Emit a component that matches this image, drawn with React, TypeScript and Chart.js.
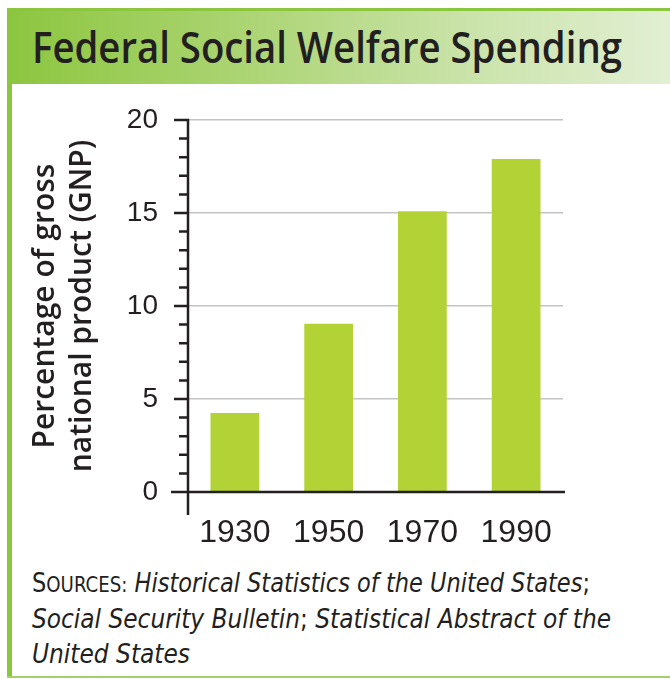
import React, { useEffect, useRef } from 'react';
import { Chart, registerables } from 'chart.js';

Chart.register(...registerables);

const titleText = 'Federal Social Welfare Spending';
const years = ['1930', '1950', '1970', '1990'];
const spendingPct = [4.25, 9.05, 15.1, 17.9];
const yAxisTitle = ['Percentage of gross', 'national product (GNP)'];
const yMin = 0;
const yMax = 20;
const yMajorStep = 5;
const yMinorStep = 1;
const sourcesLine1 = 'Historical Statistics of the United States';
const sourcesLine2a = 'Social Security Bulletin';
const sourcesLine2b = 'Statistical Abstract of the';
const sourcesLine3 = 'United States';

const NARROW = '"Liberation Sans Narrow", "Arial Narrow", "DejaVu Sans Condensed", sans-serif';
const TICKFONT = '"Liberation Sans", Arial, sans-serif';
const INK = '#231f20';
const GREEN = '#8cc63f';
const BAR = '#b3d236';

const axisPlugin = {
  id: 'axisDecor',
  afterDraw(chart: any) {
    const { ctx, chartArea, scales } = chart;
    const ys = scales.y;
    const left = chartArea.left;
    const bottom = chartArea.bottom;
    ctx.save();
    ctx.strokeStyle = INK;
    ctx.lineWidth = 2.5;
    ctx.beginPath();
    ctx.moveTo(left, ys.getPixelForValue(yMax) - 1.25);
    ctx.lineTo(left, bottom + 23);
    ctx.moveTo(left - 17, bottom);
    ctx.lineTo(chartArea.right + 2, bottom);
    for (let v = yMin; v <= yMax; v += yMinorStep) {
      const py = ys.getPixelForValue(v);
      const len = v % yMajorStep === 0 ? 14 : 9;
      ctx.moveTo(left - len, py);
      ctx.lineTo(left, py);
    }
    ctx.stroke();
    ctx.restore();
  },
};

function BarChart() {
  const ref = useRef<HTMLCanvasElement | null>(null);
  useEffect(() => {
    if (!ref.current) return;
    const chart = new Chart(ref.current, {
      type: 'bar',
      data: {
        labels: years,
        datasets: [
          {
            data: spendingPct,
            backgroundColor: BAR,
            barPercentage: 0.52,
            categoryPercentage: 1,
          },
        ],
      },
      options: {
        responsive: false,
        animation: false,
        events: [],
        layout: { padding: { top: 34, right: 107, bottom: 0, left: 0 } },
        plugins: {
          legend: { display: false },
          tooltip: { enabled: false },
          title: { display: false },
        },
        scales: {
          x: {
            grid: { display: false, drawTicks: false },
            border: { display: false },
            ticks: {
              color: INK,
              font: { family: TICKFONT, size: 32 },
              padding: 22,
              maxRotation: 0,
              autoSkip: false,
            },
            afterFit(s: any) {
              s.height = 68;
            },
          },
          y: {
            min: yMin,
            max: yMax,
            ticks: {
              stepSize: yMajorStep,
              color: INK,
              font: { family: TICKFONT, size: 28 },
              padding: 16,
            },
            grid: {
              color: '#c4c4c4',
              lineWidth: 1.5,
              drawTicks: true,
              tickLength: 14,
              tickColor: 'rgba(0,0,0,0)',
            },
            border: { display: false },
            title: {
              display: true,
              text: yAxisTitle,
              color: INK,
              font: { family: '"Open Sans", sans-serif', size: 30, weight: '600', lineHeight: 1.233 },
              padding: { top: 14, bottom: 0 },
            },
            afterFit(s: any) {
              s.width = 175;
            },
          },
        },
      },
      plugins: [axisPlugin],
    } as any);
    return () => chart.destroy();
  }, []);
  return (
    <canvas
      ref={ref}
      width={657}
      height={474}
      style={{ position: 'absolute', left: 13, top: 86, width: 657, height: 474 }}
    />
  );
}

export default function App() {
  return (
    <div
      style={{
        position: 'absolute',
        left: 0,
        top: 0,
        width: 670,
        height: 679,
        background: '#ffffff',
        overflow: 'hidden',
      }}
    >
      <div
        style={{
          position: 'absolute',
          left: 7,
          top: 8,
          width: 663,
          height: 76,
          background: 'linear-gradient(to right, #8cc63f 0%, #abd472 35%, #cae3aa 70%, #e2efd3 100%)',
        }}
      />
      <div style={{ position: 'absolute', left: 7, top: 8, width: 663, height: 3, background: GREEN }} />
      <div style={{ position: 'absolute', left: 7, top: 8, width: 5, height: 670, background: GREEN }} />
      <div style={{ position: 'absolute', left: 7, top: 676, width: 663, height: 2, background: '#a5d16b' }} />
      <svg
        width={670}
        height={679}
        style={{ position: 'absolute', left: 0, top: 0, pointerEvents: 'none' }}
      >
        <text
          x={32}
          y={63}
          textLength={590}
          lengthAdjust="spacingAndGlyphs"
          fontFamily='"Open Sans", sans-serif'
          fontWeight={600}
          fontSize={43}
          fill={INK}
        >
          {titleText}
        </text>
        <text x={32} y={592} textLength={558} lengthAdjust="spacingAndGlyphs" fontFamily={NARROW} fontSize={26} fill={INK}>
          <tspan>S</tspan>
          <tspan fontSize={21}>OURCES:</tspan>
          <tspan> </tspan>
          <tspan fontStyle="italic">{sourcesLine1}</tspan>
          <tspan>;</tspan>
        </text>
        <text x={32} y={628} textLength={579} lengthAdjust="spacingAndGlyphs" fontFamily={NARROW} fontSize={26} fill={INK}>
          <tspan fontStyle="italic">{sourcesLine2a}</tspan>
          <tspan>; </tspan>
          <tspan fontStyle="italic">{sourcesLine2b}</tspan>
        </text>
        <text
          x={32}
          y={663}
          textLength={158}
          lengthAdjust="spacingAndGlyphs"
          fontFamily={NARROW}
          fontSize={26}
          fontStyle="italic"
          fill={INK}
        >
          {sourcesLine3}
        </text>
      </svg>
      <BarChart />
    </div>
  );
}
